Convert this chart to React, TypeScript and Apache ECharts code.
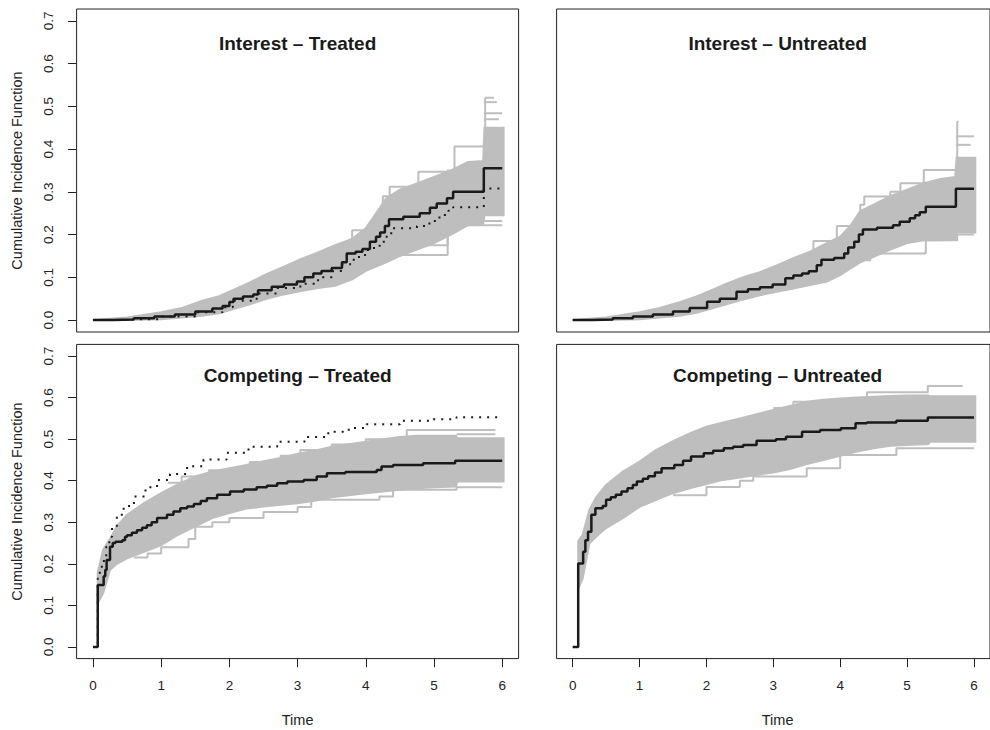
import React, { useEffect, useRef } from "react";
import * as echarts from "echarts";

// ---------- axis ticks & texts ----------
const timeTicks = [0, 1, 2, 3, 4, 5, 6];
const cifTicks = [0, 0.1, 0.2, 0.3, 0.4, 0.5, 0.6, 0.7];
const panelTitles = [
  "Interest – Treated",
  "Interest – Untreated",
  "Competing – Treated",
  "Competing – Untreated",
];
const yAxisTitle = "Cumulative Incidence Function";
const xAxisTitle = "Time";

// ---------- Interest – Treated ----------
const intTrtEstimate: number[][] = [
  [0, 0], [0.3, 0.001], [0.6, 0.004], [0.9, 0.008], [1.2, 0.013], [1.5, 0.02], [1.75, 0.027],
  [1.9, 0.033], [2.0, 0.042], [2.06, 0.05], [2.2, 0.055], [2.35, 0.06], [2.42, 0.07], [2.62, 0.078],
  [2.8, 0.083], [2.99, 0.09], [3.1, 0.1], [3.23, 0.109], [3.35, 0.115], [3.5, 0.122], [3.65, 0.135],
  [3.72, 0.156], [3.85, 0.16], [3.95, 0.166], [4.06, 0.183], [4.15, 0.195], [4.21, 0.205],
  [4.28, 0.22], [4.34, 0.236], [4.55, 0.242], [4.79, 0.25], [4.94, 0.263], [5.04, 0.273],
  [5.19, 0.285], [5.28, 0.3], [5.73, 0.355], [6.0, 0.355],
];
const intTrtDotted: number[][] = [
  [0, 0], [0.5, 0.002], [1.0, 0.008], [1.5, 0.018], [1.9, 0.03], [2.05, 0.045], [2.4, 0.062],
  [2.7, 0.075], [3.04, 0.085], [3.3, 0.1], [3.52, 0.115], [3.65, 0.13], [3.77, 0.141], [3.9, 0.152],
  [4.01, 0.164], [4.12, 0.174], [4.21, 0.183], [4.28, 0.195], [4.33, 0.203], [4.4, 0.215],
  [4.75, 0.22], [4.87, 0.226], [4.97, 0.232], [5.06, 0.24], [5.13, 0.246], [5.21, 0.256],
  [5.28, 0.264], [5.73, 0.308], [6.0, 0.308],
];
const intTrtBandTime = [0, 0.5, 1.0, 1.3, 1.6, 1.85, 2.05, 2.3, 2.55, 2.8, 3.05, 3.3, 3.55, 3.8, 4.0, 4.15, 4.3, 4.5, 4.75, 5.0, 5.25, 5.5, 5.72, 5.74, 6.02];
const intTrtBandLow = [0, 0, 0.002, 0.006, 0.01, 0.016, 0.025, 0.037, 0.05, 0.06, 0.068, 0.075, 0.08, 0.095, 0.115, 0.125, 0.135, 0.15, 0.165, 0.18, 0.2, 0.222, 0.225, 0.245, 0.245];
const intTrtBandHigh = [0, 0.006, 0.018, 0.028, 0.045, 0.056, 0.07, 0.088, 0.108, 0.125, 0.143, 0.158, 0.175, 0.19, 0.215, 0.25, 0.285, 0.305, 0.32, 0.335, 0.35, 0.37, 0.372, 0.45, 0.45];
const intTrtOutliers: number[][][] = [
  [[3.6, 0.17], [3.8, 0.21], [4.05, 0.21], [4.25, 0.29], [4.35, 0.312], [4.77, 0.347], [5.2, 0.35], [5.3, 0.406], [5.73, 0.406], [5.75, 0.52], [5.88, 0.52]],
  [[5.73, 0.51], [5.92, 0.51]],
  [[5.73, 0.484], [6.0, 0.484]],
  [[5.73, 0.47], [5.95, 0.47]],
  [[4.1, 0.13], [4.21, 0.152], [5.2, 0.222], [6.0, 0.222]],
  [[4.3, 0.15], [4.35, 0.175], [5.2, 0.232], [6.0, 0.232]],
];

// ---------- Interest – Untreated ----------
const intUntEstimate: number[][] = [
  [0, 0], [0.3, 0.001], [0.6, 0.004], [0.9, 0.008], [1.2, 0.013], [1.5, 0.02], [1.75, 0.028],
  [2.01, 0.043], [2.2, 0.05], [2.45, 0.066], [2.62, 0.072], [2.8, 0.077], [2.99, 0.083],
  [3.18, 0.098], [3.3, 0.104], [3.43, 0.109], [3.53, 0.114], [3.65, 0.128], [3.72, 0.141],
  [3.91, 0.145], [4.06, 0.156], [4.12, 0.17], [4.21, 0.183], [4.28, 0.2], [4.34, 0.212],
  [4.55, 0.216], [4.79, 0.222], [4.89, 0.23], [5.04, 0.238], [5.12, 0.245], [5.19, 0.252],
  [5.28, 0.265], [5.73, 0.307], [6.0, 0.307],
];
const intUntBandTime = [0, 0.5, 1.0, 1.3, 1.6, 1.85, 2.05, 2.3, 2.55, 2.8, 3.05, 3.3, 3.55, 3.8, 4.0, 4.15, 4.3, 4.5, 4.75, 5.0, 5.25, 5.5, 5.72, 5.74, 6.02];
const intUntBandLow = [0, 0, 0.002, 0.006, 0.01, 0.017, 0.026, 0.037, 0.048, 0.058, 0.066, 0.074, 0.082, 0.09, 0.105, 0.12, 0.135, 0.148, 0.165, 0.18, 0.187, 0.187, 0.188, 0.205, 0.205];
const intUntBandHigh = [0, 0.006, 0.018, 0.028, 0.042, 0.055, 0.068, 0.085, 0.1, 0.112, 0.128, 0.145, 0.16, 0.18, 0.195, 0.22, 0.255, 0.27, 0.29, 0.305, 0.32, 0.33, 0.335, 0.38, 0.38];
const intUntOutliers: number[][][] = [
  [[3.5, 0.15], [3.6, 0.185], [3.95, 0.22], [4.3, 0.27], [4.36, 0.289], [4.75, 0.3], [4.9, 0.32], [5.1, 0.32], [5.25, 0.351], [5.73, 0.351], [5.75, 0.464], [5.77, 0.464]],
  [[5.73, 0.43], [6.0, 0.43]],
  [[5.73, 0.41], [5.95, 0.41]],
  [[4.4, 0.14], [4.45, 0.156], [4.9, 0.156], [5.28, 0.187], [5.73, 0.187], [5.75, 0.2], [6.0, 0.2]],
];

// ---------- Competing – Treated ----------
const cmpTrtEstimate: number[][] = [
  [0, 0], [0.07, 0.149], [0.157, 0.17], [0.18, 0.185], [0.2, 0.209], [0.25, 0.241], [0.29, 0.25],
  [0.33, 0.253], [0.43, 0.257], [0.47, 0.265], [0.5, 0.269], [0.57, 0.275], [0.645, 0.281],
  [0.72, 0.287], [0.79, 0.293], [0.86, 0.3], [0.94, 0.31], [1.085, 0.318], [1.18, 0.326],
  [1.28, 0.334], [1.38, 0.338], [1.48, 0.344], [1.58, 0.351], [1.67, 0.358], [1.82, 0.366],
  [2.01, 0.374], [2.21, 0.379], [2.4, 0.384], [2.55, 0.388], [2.7, 0.394], [2.85, 0.398],
  [3.09, 0.402], [3.28, 0.41], [3.43, 0.418], [3.7, 0.421], [4.16, 0.426], [4.23, 0.434],
  [4.4, 0.438], [4.84, 0.442], [5.31, 0.448], [6.0, 0.448],
];
const cmpTrtDotted: number[][] = [
  [0, 0], [0.07, 0.165], [0.1, 0.185], [0.13, 0.2], [0.16, 0.215], [0.195, 0.241], [0.24, 0.265],
  [0.28, 0.289], [0.35, 0.318], [0.45, 0.339], [0.6, 0.362], [0.77, 0.384], [0.94, 0.402],
  [1.13, 0.416], [1.38, 0.435], [1.62, 0.451], [1.96, 0.467], [2.28, 0.482], [2.7, 0.494],
  [3.1, 0.505], [3.45, 0.518], [3.75, 0.527], [4.01, 0.536], [4.5, 0.544], [4.99, 0.548],
  [5.33, 0.553], [6.0, 0.553],
];
const cmpTrtBandTime = [0.07, 0.15, 0.25, 0.35, 0.5, 0.75, 1.0, 1.25, 1.5, 1.75, 2.0, 2.25, 2.5, 2.75, 3.0, 3.25, 3.5, 3.75, 4.0, 4.25, 4.5, 4.75, 5.0, 5.32, 5.34, 6.02];
const cmpTrtBandLow = [0.105, 0.13, 0.185, 0.2, 0.213, 0.229, 0.245, 0.27, 0.29, 0.31, 0.322, 0.333, 0.338, 0.342, 0.346, 0.352, 0.36, 0.365, 0.37, 0.374, 0.378, 0.382, 0.384, 0.386, 0.398, 0.398];
const cmpTrtBandHigh = [0.18, 0.235, 0.26, 0.29, 0.318, 0.346, 0.37, 0.392, 0.41, 0.422, 0.43, 0.438, 0.447, 0.455, 0.465, 0.472, 0.482, 0.488, 0.494, 0.5, 0.505, 0.508, 0.508, 0.508, 0.502, 0.502];
const cmpTrtOutliers: number[][][] = [
  [[1.1, 0.395], [1.3, 0.41], [1.7, 0.425], [2.3, 0.445], [2.75, 0.46], [3.04, 0.474], [3.5, 0.487], [4.0, 0.5], [4.6, 0.522], [5.9, 0.522]],
  [[5.33, 0.512], [5.9, 0.512]],
  [[0.6, 0.215], [0.8, 0.225], [1.0, 0.24], [1.4, 0.26], [1.5, 0.289], [1.75, 0.3], [2.0, 0.31], [2.5, 0.325], [3.0, 0.337], [3.2, 0.354], [4.2, 0.362], [4.4, 0.378], [5.33, 0.384], [6.0, 0.384]],
];

// ---------- Competing – Untreated ----------
const cmpUntEstimate: number[][] = [
  [0, 0], [0.083, 0.201], [0.157, 0.229], [0.19, 0.257], [0.23, 0.277], [0.28, 0.318],
  [0.34, 0.334], [0.45, 0.339], [0.5, 0.354], [0.57, 0.36], [0.645, 0.366], [0.73, 0.374],
  [0.82, 0.382], [0.9, 0.39], [0.96, 0.398], [1.05, 0.405], [1.13, 0.411], [1.23, 0.42],
  [1.33, 0.43], [1.52, 0.438], [1.65, 0.448], [1.77, 0.458], [1.96, 0.466], [2.1, 0.472],
  [2.26, 0.478], [2.4, 0.482], [2.55, 0.486], [2.75, 0.496], [3.04, 0.5], [3.19, 0.506],
  [3.43, 0.518], [3.7, 0.522], [4.01, 0.526], [4.23, 0.538], [4.4, 0.54], [4.84, 0.544],
  [5.31, 0.552], [6.0, 0.552],
];
const cmpUntBandTime = [0.083, 0.15, 0.25, 0.35, 0.5, 0.75, 1.0, 1.25, 1.5, 1.75, 2.0, 2.25, 2.5, 2.75, 3.0, 3.25, 3.5, 3.75, 4.0, 4.25, 4.5, 4.75, 5.0, 5.32, 5.34, 6.02];
const cmpUntBandLow = [0.14, 0.165, 0.249, 0.265, 0.286, 0.31, 0.337, 0.354, 0.37, 0.382, 0.392, 0.402, 0.408, 0.414, 0.42, 0.428, 0.44, 0.45, 0.46, 0.47, 0.478, 0.484, 0.486, 0.488, 0.494, 0.494];
const cmpUntBandHigh = [0.255, 0.27, 0.33, 0.36, 0.39, 0.422, 0.446, 0.474, 0.495, 0.514, 0.53, 0.54, 0.55, 0.56, 0.57, 0.58, 0.59, 0.595, 0.598, 0.6, 0.602, 0.604, 0.605, 0.605, 0.603, 0.603];
const cmpUntOutliers: number[][][] = [
  [[3.0, 0.575], [3.3, 0.59], [4.4, 0.613], [5.31, 0.628], [5.83, 0.628]],
  [[1.5, 0.365], [2.0, 0.385], [2.5, 0.4], [2.7, 0.41], [3.5, 0.43], [4.0, 0.462], [4.84, 0.478], [6.0, 0.478]],
];

const panels = [
  { est: intTrtEstimate, dotted: intTrtDotted, bt: intTrtBandTime, lo: intTrtBandLow, hi: intTrtBandHigh, out: intTrtOutliers },
  { est: intUntEstimate, dotted: null, bt: intUntBandTime, lo: intUntBandLow, hi: intUntBandHigh, out: intUntOutliers },
  { est: cmpTrtEstimate, dotted: cmpTrtDotted, bt: cmpTrtBandTime, lo: cmpTrtBandLow, hi: cmpTrtBandHigh, out: cmpTrtOutliers },
  { est: cmpUntEstimate, dotted: null, bt: cmpUntBandTime, lo: cmpUntBandLow, hi: cmpUntBandHigh, out: cmpUntOutliers },
];

const FONT = "'Liberation Sans', Arial, Helvetica, sans-serif";
const GRAY = "#bebebe";
const INK = "#1a1a1a";

// panel layout (pixels)
const colLeft = [76.6, 556.6];
const colWidth = 442;
const rowTop = [9.0, 344.4];
const rowHeight = [323.0, 314.2];

export default function App() {
  const ref = useRef<HTMLDivElement>(null);

  useEffect(() => {
    if (!ref.current) return;
    const chart = echarts.init(ref.current, undefined, { renderer: "svg" });

    const grids: any[] = [];
    const xAxes: any[] = [];
    const yAxes: any[] = [];
    const series: any[] = [];
    const graphics: any[] = [];

    panels.forEach((p, i) => {
      const row = Math.floor(i / 2);
      const col = i % 2;
      grids.push({
        left: colLeft[col],
        top: rowTop[row],
        width: colWidth,
        height: rowHeight[row],
        show: true,
        borderColor: "#222",
        borderWidth: 1,
        backgroundColor: "transparent",
        containLabel: false,
      });
      const showX = row === 1;
      const showY = col === 0;
      xAxes.push({
        type: "value",
        gridIndex: i,
        min: -0.24,
        max: 6.24,
        position: "bottom",
        axisLine: { show: false, onZero: false },
        splitLine: { show: false },
        axisTick: {
          show: showX,
          length: 8.5,
          customValues: timeTicks,
          lineStyle: { color: "#222", width: 1 },
        },
        axisLabel: {
          show: showX,
          customValues: timeTicks,
          margin: 20,
          fontSize: 13.5,
          color: "#222",
          fontFamily: FONT,
          formatter: (v: number) => String(Math.round(v)),
        },
      });
      yAxes.push({
        type: "value",
        gridIndex: i,
        min: -0.028,
        max: 0.728,
        position: "left",
        axisLine: { show: false, onZero: false },
        splitLine: { show: false },
        axisTick: {
          show: showY,
          length: 8.5,
          customValues: cifTicks,
          lineStyle: { color: "#222", width: 1 },
        },
        axisLabel: {
          show: showY,
          customValues: cifTicks,
          rotate: 90,
          margin: 21,
          fontSize: 13.5,
          color: "#222",
          fontFamily: FONT,
          formatter: (v: number) => v.toFixed(1),
        },
      });

      const common = {
        xAxisIndex: i,
        yAxisIndex: i,
        silent: true,
      };
      // grey envelope of the bootstrap curves, drawn as one polygon through the axes
      const upper = p.bt.map((t, k) => [t, p.hi[k]]);
      const lower = p.bt.map((t, k) => [t, p.lo[k]]);
      series.push({
        ...common,
        type: "custom",
        clip: true,
        data: [[p.bt[0], p.lo[0]]],
        renderItem: (_params: any, api: any) => {
          const pts = upper
            .concat(lower.slice().reverse())
            .map((d) => api.coord(d));
          return {
            type: "polygon",
            shape: { points: pts },
            style: { fill: GRAY, stroke: GRAY, lineWidth: 2, lineJoin: "miter" },
          };
        },
      });
      p.out.forEach((o) => {
        series.push({
          ...common,
          type: "line",
          symbol: "none",
          step: "end",
          data: o,
          lineStyle: { color: GRAY, width: 2 },
        });
      });
      if (p.dotted) {
        series.push({
          ...common,
          type: "line",
          symbol: "none",
          step: "end",
          data: p.dotted,
          lineStyle: { color: INK, width: 2, type: [2, 6], cap: "butt" },
        });
      }
      series.push({
        ...common,
        type: "line",
        symbol: "none",
        step: "end",
        data: p.est,
        lineStyle: { color: INK, width: 2.5 },
      });

      const cx = colLeft[col] + colWidth / 2;
      graphics.push({
        type: "text",
        x: cx,
        y: row === 0 ? 43 : 375,
        style: {
          text: panelTitles[i],
          fontSize: 19,
          fontWeight: "bold",
          fontFamily: FONT,
          fill: INK,
          align: "center",
          verticalAlign: "middle",
        },
      });
      if (showX) {
        graphics.push({
          type: "text",
          x: cx,
          y: 720,
          style: {
            text: xAxisTitle,
            fontSize: 14.5,
            fontFamily: FONT,
            fill: "#222",
            align: "center",
            verticalAlign: "middle",
          },
        });
      }
      if (showY) {
        graphics.push({
          type: "text",
          x: 17,
          y: rowTop[row] + rowHeight[row] / 2,
          rotation: Math.PI / 2,
          style: {
            text: yAxisTitle,
            fontSize: 14.5,
            fontFamily: FONT,
            fill: "#222",
            align: "center",
            verticalAlign: "middle",
          },
        });
      }
    });

    chart.setOption({
      animation: false,
      backgroundColor: "#ffffff",
      grid: grids,
      xAxis: xAxes,
      yAxis: yAxes,
      series,
      graphic: graphics,
    });

    return () => chart.dispose();
  }, []);

  return (
    <div
      ref={ref}
      style={{ position: "fixed", left: 0, top: 0, width: 990, height: 730 }}
    />
  );
}
